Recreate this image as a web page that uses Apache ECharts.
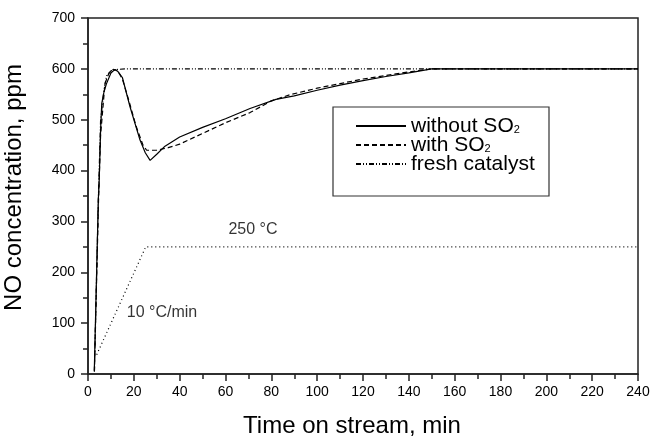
<!DOCTYPE html>
<html>
<head>
<meta charset="utf-8">
<script src="https://cdn.jsdelivr.net/npm/echarts@6/dist/echarts.min.js"></script>
<style>html,body{margin:0;padding:0;background:#fff}#c{width:650px;height:437px}</style>
</head>
<body>
<div id="c"></div>
<script>
// ---- data (time in min, NO concentration in ppm) ----
var withoutSO2 = [
  [2.75,7],[4.5,342],[4.9,382],[5.5,480],[6,532],[7,555],[8,570],[10,592],[11.8,599],
  [13,595],[15,583],[18.3,526],[22.7,460],[25,435],[27.1,420],[30,432],[33.6,448],
  [40,466],[50,485],[60,502],[70.7,522],[82,540],[90,547],[100,558],[110,568],
  [120,577],[130,585],[140,592],[150,600],[240,600]
];
var withSO2 = [
  [2.8,5],[4.6,342],[5.5,470],[7.4,571],[9,590],[11,599],[13,596],[15,580],[18,535],
  [21,487],[24,450],[25.6,440],[30,440],[35,445],[40,452],[50,473],[60,494],
  [70.7,514],[80,537],[88,549],[100,562],[110,571],[120,580],[130,587],[140,594],
  [150,600],[240,600]
];
var freshCatalyst = [
  [2.8,5],[4.5,342],[5.5,500],[7,560],[8.2,588],[10,596],[13,599],[16.9,600],[240,600]
];
var temperature = [[3.8,38],[25.2,250],[240,250]];
var annotations = [
  {value:[72,283.5], text:'250 °C'},
  {value:[32.3,120], text:'10 °C/min'}
];
var seriesNames = ['without SO2','with SO2','fresh catalyst'];
var legendLabels = {'without SO2':'without SO{sub|2}','with SO2':'with SO{sub|2}','fresh catalyst':'fresh catalyst'};

var chart = echarts.init(document.getElementById('c'), null, {renderer:'canvas'});
var font = 'Liberation Sans, Arial, Helvetica, sans-serif';
var axisCol = '#222';
chart.setOption({
  animation:false,
  backgroundColor:'#fff',
  textStyle:{fontFamily:font},
  grid:{left:88,right:12,top:18,bottom:63,containLabel:false,outerBoundsMode:'none',
    show:true,borderColor:axisCol,borderWidth:1.5,backgroundColor:'transparent'},
  xAxis:{
    type:'value',min:0,max:240,interval:20,
    name:'Time on stream, min',nameLocation:'middle',nameGap:40,
    nameTextStyle:{fontSize:24,color:'#000',fontFamily:font,padding:[0,22,0,0]},
    axisLine:{show:true,onZero:false,lineStyle:{color:axisCol,width:1.5}},
    axisTick:{show:true,inside:false,length:7,lineStyle:{color:axisCol,width:1.5}},
    minorTick:{show:true,splitNumber:2,length:5,lineStyle:{color:axisCol,width:1.5}},
    axisLabel:{fontSize:14,color:'#000',margin:11,fontFamily:font},
    splitLine:{show:false}
  },
  yAxis:{
    type:'value',min:0,max:700,interval:100,
    name:'NO concentration, ppm',nameLocation:'middle',nameGap:62,nameRotate:90,
    nameTextStyle:{fontSize:24,color:'#000',fontFamily:font,padding:[0,0,0,17]},
    axisLine:{show:true,onZero:false,lineStyle:{color:axisCol,width:1.5}},
    axisTick:{show:true,inside:false,length:7,lineStyle:{color:axisCol,width:1.5}},
    minorTick:{show:true,splitNumber:2,length:5,lineStyle:{color:axisCol,width:1.5}},
    axisLabel:{fontSize:14,color:'#000',margin:13,fontFamily:font},
    splitLine:{show:false}
  },
  legend:{
    data:seriesNames,orient:'vertical',left:355,top:115.5,padding:0,
    itemWidth:50,itemHeight:19,itemGap:-2,
    itemStyle:{opacity:0},
    formatter:function(n){return legendLabels[n];},
    textStyle:{fontSize:21,color:'#000',fontFamily:font,lineHeight:19,
      rich:{sub:{fontSize:11,lineHeight:14,verticalAlign:'bottom',color:'#000',fontFamily:font}}},
    selectedMode:false
  },
  graphic:[{type:'rect',shape:{x:333,y:107,width:216,height:89},style:{fill:'none',stroke:'#333',lineWidth:1.2},z:-1}],
  series:[
    {name:'without SO2',type:'line',data:withoutSO2,symbol:'none',lineStyle:{color:'#000',width:1.2,type:'solid'},z:5},
    {name:'with SO2',type:'line',data:withSO2,symbol:'none',lineStyle:{color:'#000',width:1.2,type:[5,3]},z:4},
    {name:'fresh catalyst',type:'line',data:freshCatalyst,symbol:'none',lineStyle:{color:'#000',width:1.2,type:[5,2,1,2,1,2]},z:3},
    {name:'temperature',type:'line',data:temperature,symbol:'none',lineStyle:{color:'#000',width:1.2,type:[1,3]},z:2},
    {name:'annot',type:'scatter',symbolSize:1,itemStyle:{color:'rgba(0,0,0,0)'},
      data:annotations.map(function(a){return {value:a.value,label:{formatter:a.text}};}),
      label:{show:true,position:'inside',fontSize:16,color:'#000',textBorderWidth:0,fontFamily:font},silent:true}
  ]
});
</script>
</body>
</html>
